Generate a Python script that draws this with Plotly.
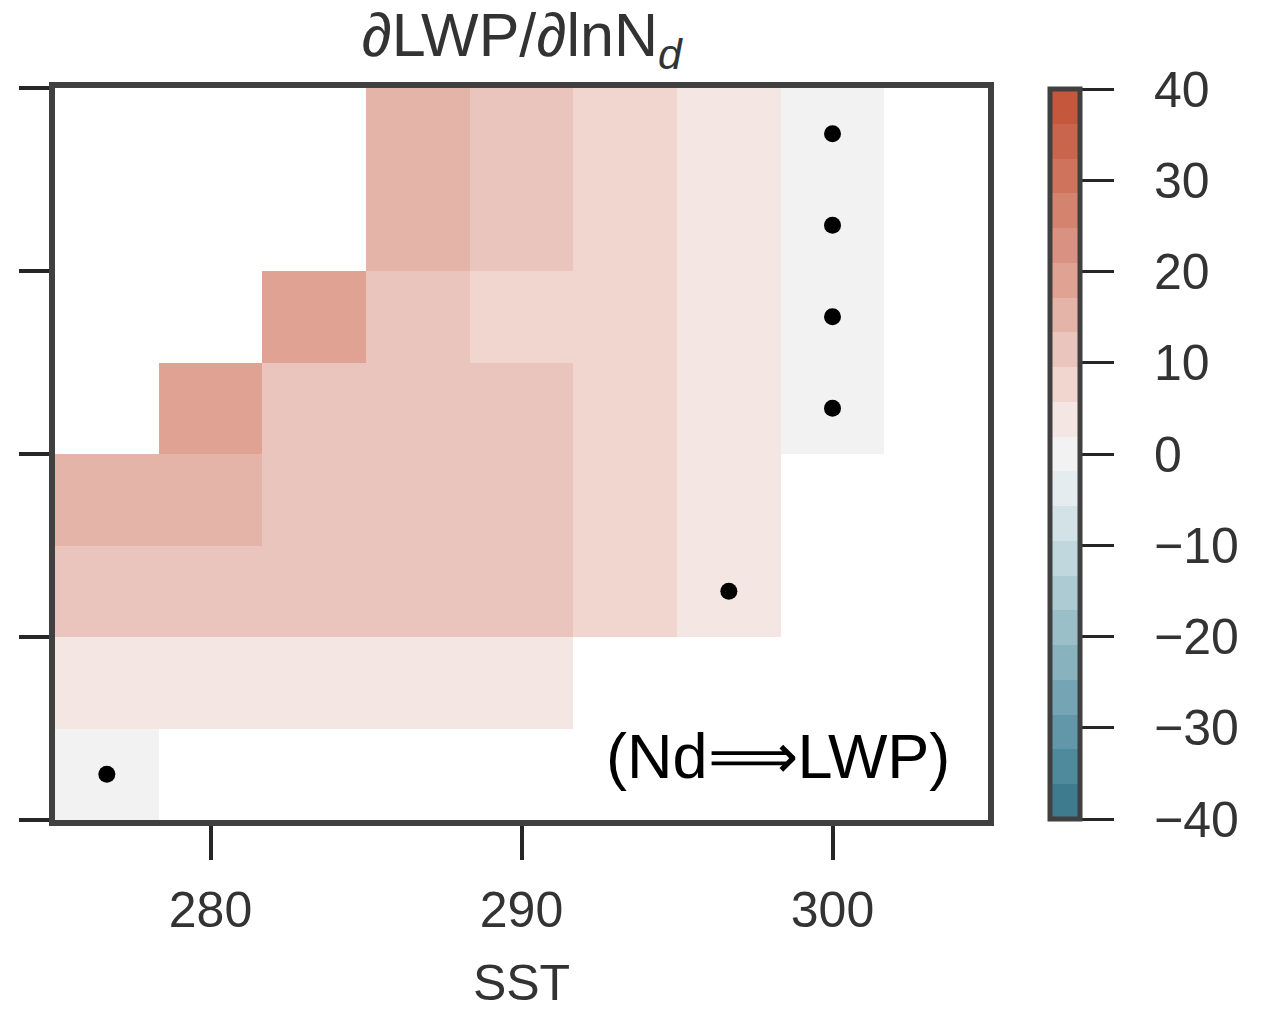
import plotly.graph_objects as go

# ---- data ----
sst_centers = [276.667, 280.0, 283.333, 286.667, 290.0, 293.333, 296.667, 300.0, 303.333]
row_centers = [0.5, 1.5, 2.5, 3.5, 4.5, 5.5, 6.5, 7.5]
N = None
# rows from bottom (row 0) to top (row 7), columns along SST
dlwp = [
    [0.3, N, N, N, N, N, N, N, N],
    [4, 4, 4, 4, 4, N, N, N, N],
    [11, 11, 11, 11, 11, 8, 4, N, N],
    [15, 15, 11, 11, 11, 8, 4, N, N],
    [N, 19, 11, 11, 11, 8, 4, 0.4, N],
    [N, N, 19, 11, 8, 8, 4, 0.4, N],
    [N, N, N, 15, 11, 8, 4, 0.4, N],
    [N, N, N, 15, 11, 8, 4, 0.4, N],
]
# non-significant cells (dots)
dot_sst = [276.667, 296.667, 300.0, 300.0, 300.0, 300.0]
dot_row = [0.5, 2.5, 4.5, 5.5, 6.5, 7.5]

cbar_ticks = [-40, -30, -20, -10, 0, 10, 20, 30, 40]
x_ticks = [280, 290, 300]
y_ticks = [0, 2, 4, 6, 8]
zmin, zmax = -40, 40

# ---- discrete diverging colormap (21 levels) ----
band_colors = [
    "#3e7b8f", "#4e8a9c", "#6197a8", "#75a5b4", "#88b2be", "#9bbfc8",
    "#adcbd2", "#c0d7dd", "#d2e2e6", "#e4ecf0", "#f2f2f2", "#f4e6e2",
    "#f0d6cf", "#e9c5bd", "#e4b4a8", "#dfa293", "#d99282", "#d4836f",
    "#cf735c", "#c9654c", "#c4573c",
]
nb = len(band_colors)
colorscale = []
for i, c in enumerate(band_colors):
    colorscale.append([i / nb, c])
    colorscale.append([(i + 1) / nb, c])

# ---- geometry (pixels) ----
W, H = 1263, 1011
ML, MR, MT, MB = 55, 20, 88, 191
paper_w = W - ML - MR
plot_right = 988
cb_left, cb_len, label_left = 1050, 730, 1153
plot_h = H - MT - MB
px = lambda p: (p - ML) / paper_w
# value range spanned by the label axis so that it lines up with the colorbar
half_extra = (plot_h - cb_len) / 2 * (zmax - zmin) / cb_len

fig = go.Figure()
fig.add_trace(go.Heatmap(
    x=sst_centers, y=row_centers, z=dlwp,
    zmin=zmin, zmax=zmax, colorscale=colorscale,
    hoverongaps=False,
    colorbar=dict(
        x=px(cb_left), xanchor="left", xpad=0,
        y=0.5, yanchor="middle", ypad=0,
        len=cb_len, lenmode="pixels", thickness=30,
        outlinewidth=5, outlinecolor="#404040",
        tickvals=cbar_ticks, ticks="outside", ticklen=32, tickwidth=3,
        tickcolor="#262626", showticklabels=False,
    ),
))
fig.add_trace(go.Scatter(
    x=dot_sst, y=dot_row, mode="markers",
    marker=dict(color="black", size=17), showlegend=False,
))
# carrier trace for the colorbar label axis
fig.add_trace(go.Scatter(x=[None], y=[None], yaxis="y2", showlegend=False,
                         hoverinfo="skip"))

fig.update_layout(
    width=W, height=H,
    margin=dict(l=ML, r=MR, t=MT, b=MB),
    paper_bgcolor="white", plot_bgcolor="white",
    font=dict(family="Liberation Sans", color="#333333"),
    title=dict(text="∂LWP/∂lnN<sub><i>d</i></sub>", x=0.413, xanchor="center",
               y=1 - 35 / 1011, yanchor="middle",
               font=dict(family="Liberation Sans", size=61, color="#333333")),
    showlegend=False,
    xaxis=dict(
        domain=[0, px(plot_right)],
        range=[275, 305], tickvals=x_ticks, ticks="outside", ticklen=34, tickwidth=4,
        tickcolor="#262626", showgrid=False, zeroline=False, ticklabelstandoff=7,
        showline=True, mirror=True, linewidth=6, linecolor="#404040",
        automargin=False,
        tickfont=dict(size=50, color="#333333"),
        title=dict(text="SST", font=dict(size=50, color="#333333"), standoff=30),
    ),
    yaxis=dict(
        range=[0, 8], tickvals=y_ticks, showticklabels=False,
        ticks="outside", ticklen=30, tickwidth=4, tickcolor="#262626",
        showgrid=False, zeroline=False, automargin=False,
        showline=True, mirror=True, linewidth=6, linecolor="#404040",
    ),
    yaxis2=dict(
        overlaying="y", anchor="free", position=px(label_left), side="right",
        range=[zmin - half_extra, zmax + half_extra], tickvals=cbar_ticks,
        ticks="", showline=False, showgrid=False, zeroline=False,
        automargin=False, fixedrange=True,
        tickfont=dict(family="Liberation Sans", size=50, color="#333333"),
    ),
)
fig.add_annotation(
    text="(Nd⟹LWP)", xref="paper", yref="paper",
    x=px(952), y=0.087, xanchor="right", yanchor="middle", showarrow=False,
    font=dict(family="Liberation Sans", size=63, color="black"),
)

fig.write_html("out.html")
